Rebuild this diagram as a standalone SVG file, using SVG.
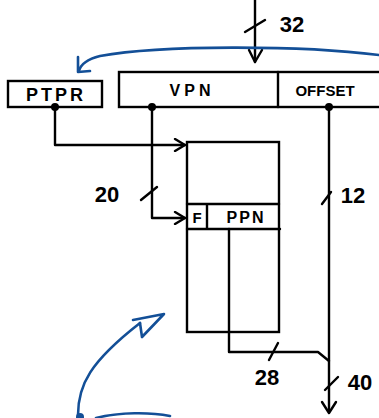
<svg xmlns="http://www.w3.org/2000/svg" width="379" height="418" viewBox="0 0 379 418">
<defs>
<style>
.ln{fill:none;stroke:#000;stroke-width:2.4;stroke-linecap:round;stroke-linejoin:round}
.bx{fill:#fff;stroke:#000;stroke-width:2.4}
.bl{fill:none;stroke:#134f97;stroke-width:2.6;stroke-linecap:round;stroke-linejoin:round}
.t{font-family:"Liberation Sans",Arial,sans-serif;font-weight:bold;fill:#000}
.n{font-family:"Liberation Sans",Arial,sans-serif;font-size:22px;font-weight:bold;fill:#000}
</style>
<marker id="ah" viewBox="0 0 14 14" refX="12" refY="7" markerWidth="14" markerHeight="14" markerUnits="userSpaceOnUse" orient="auto">
<path d="M2,1 L12,7 L2,13" fill="none" stroke="#000" stroke-width="2.4" stroke-linecap="round" stroke-linejoin="round"/>
</marker>
</defs>
<rect width="379" height="418" fill="#fff"/>

<g id="connectors">
<path class="ln" d="M255,0 V62"/>
<path class="ln" d="M249,50 L255,62 L262,50"/>
<path class="ln" d="M245,32 L265,20"/>
<path class="ln" d="M55,107 V145 H185" marker-end="url(#ah)"/>
<path class="ln" d="M152,107 V218 H185" marker-end="url(#ah)"/>
<path class="ln" d="M141,200 L157,187"/>
<path class="ln" d="M329,107 V412"/>
<path class="ln" d="M322,402 L329,413 L336,402"/>
<path class="ln" d="M322,204 L331,192"/>
<path class="ln" d="M325,390 L338,377"/>
<path class="ln" d="M229,229 V352 H318 L329,361"/>
<path class="ln" d="M269,360 L278,343"/>
</g>

<g id="blue">
<path class="bl" d="M379,55 C300,45 160,45 100,56 C88,59 81,63 79,71"/>
<path class="bl" d="M78,57 L78,72 L90,71"/>
<path class="bl" d="M78,415 C78,385 90,362 140,323"/>
<path class="bl" d="M133,320 L164,314 L142,337 L140,323"/>
<path class="bl" d="M96,418 C120,412 150,412 170,416"/>
<circle cx="80" cy="417" r="4" fill="#134f97"/>
</g>

<g id="ptpr">
<rect class="bx" x="8" y="81" width="94" height="26"/>
<text class="t" x="56" y="101" font-size="18" text-anchor="middle" letter-spacing="3">PTPR</text>
<circle cx="55" cy="107" r="4" fill="#000"/>
</g>

<g id="vaddr">
<rect class="bx" x="119" y="72" width="262" height="35"/>
<path class="ln" d="M278,72 V107"/>
<text class="t" x="192" y="96" font-size="16" text-anchor="middle" letter-spacing="4">VPN</text>
<text class="t" x="325" y="96" font-size="15" text-anchor="middle">OFFSET</text>
<circle cx="152" cy="107" r="4" fill="#000"/>
<circle cx="329" cy="107" r="4" fill="#000"/>
</g>

<g id="table">
<rect class="bx" x="187" y="142" width="92" height="190"/>
<path class="ln" d="M187,204 H279 M187,229 H280 M207,204 V229"/>
<text class="t" x="197" y="223" font-size="15" text-anchor="middle">F</text>
<text class="t" x="246" y="223" font-size="16" text-anchor="middle" letter-spacing="2">PPN</text>
<path class="ln" d="M229,229 V332"/>
</g>

<g id="labels">
<text class="n" x="292" y="32" text-anchor="middle">32</text>
<text class="n" x="107" y="202" text-anchor="middle">20</text>
<text class="n" x="353" y="203" text-anchor="middle">12</text>
<text class="n" x="267" y="385" text-anchor="middle">28</text>
<text class="n" x="360" y="390" text-anchor="middle">40</text>
</g>
</svg>
